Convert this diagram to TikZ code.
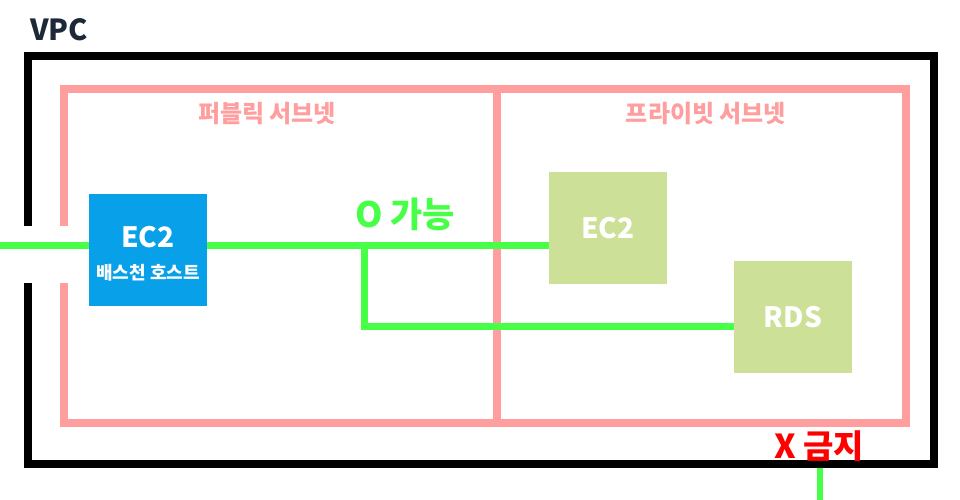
\documentclass[tikz,border=0pt]{standalone}
\usepackage{fontspec}
\setmainfont{Noto Sans CJK KR}
\usepackage{tikz}

\definecolor{vpcnavy}{RGB}{29,41,57}
\definecolor{subnetpink}{RGB}{255,158,158}
\definecolor{hostblue}{RGB}{8,160,232}
\definecolor{privgreen}{RGB}{205,224,152}
\definecolor{linkgreen}{RGB}{72,255,72}

\begin{document}
\begin{tikzpicture}[x=1pt, y=-1pt,
        frame/.style={line width=8pt, line join=miter},
        link/.style={line width=7pt, linkgreen},
        hostbox/.style={rectangle, inner sep=0pt, minimum width=118pt, minimum height=112pt},
        boxtext/.style={text=white, font=\bfseries\fontsize{28}{28}\selectfont}]
        \useasboundingbox (0,0) rectangle (960,500);

        % --- Khung VPC (hở một đoạn bên trái) ---
        \draw[frame, black] (28,226) -- (28,56) -- (934,56) -- (934,464) -- (28,464) -- (28,283);
        \node[vpcnavy, font=\bfseries\fontsize{29}{29}\selectfont] (vpc) at (59,30) {VPC};

        % --- Hai subnet ---
        \draw[frame, subnetpink] (64,226) -- (64,89) -- (906,89) -- (906,423) -- (64,423) -- (64,283);
        \draw[frame, subnetpink] (497,89) -- (497,423);
        \node[subnetpink, font=\bfseries\fontsize{24}{24}\selectfont] (pub) at (267,114) {퍼블릭 서브넷};
        \node[subnetpink, font=\bfseries\fontsize{24}{24}\selectfont] (priv) at (706,114) {프라이빗 서브넷};

        % --- Các máy ---
        \node[hostbox, fill=hostblue] (bastion) at (148,249.5) {};
        \node[boxtext] (bastionname) at (148,237) {EC2};
        \node[boxtext, font=\bfseries\fontsize{18}{18}\selectfont] (bastionrole) at (148,273) {배스천 호스트};
        \node[hostbox, fill=privgreen, boxtext] (ec2) at (608,228) {EC2};
        \node[hostbox, fill=privgreen, boxtext] (rds) at (793,317) {RDS};

        % --- Đường kết nối ---
        \coordinate (inet) at (0,245);
        \coordinate (tap) at (364,245);
        \coordinate (tapend) at (364,326);
        \draw[link] (inet) -- (bastion.west |- inet);
        \draw[link] (bastion.east |- tap) -- (ec2.west |- tap);
        \draw[link] (tap) -- (tapend) -- (rds.west |- tapend);
        \node[linkgreen, font=\bfseries\fontsize{35}{35}\selectfont] (ok) at (405,214) {O 가능};

        % --- Lối vào bị chặn ---
        \coordinate (gate) at (820,468);
        \coordinate (outside) at (820,500);
        \draw[link, line width=6pt] (gate) -- (outside);
        \node[red, font=\bfseries\fontsize{33}{33}\selectfont] (deny) at (819,446) {X 금지};
\end{tikzpicture}
\end{document}
